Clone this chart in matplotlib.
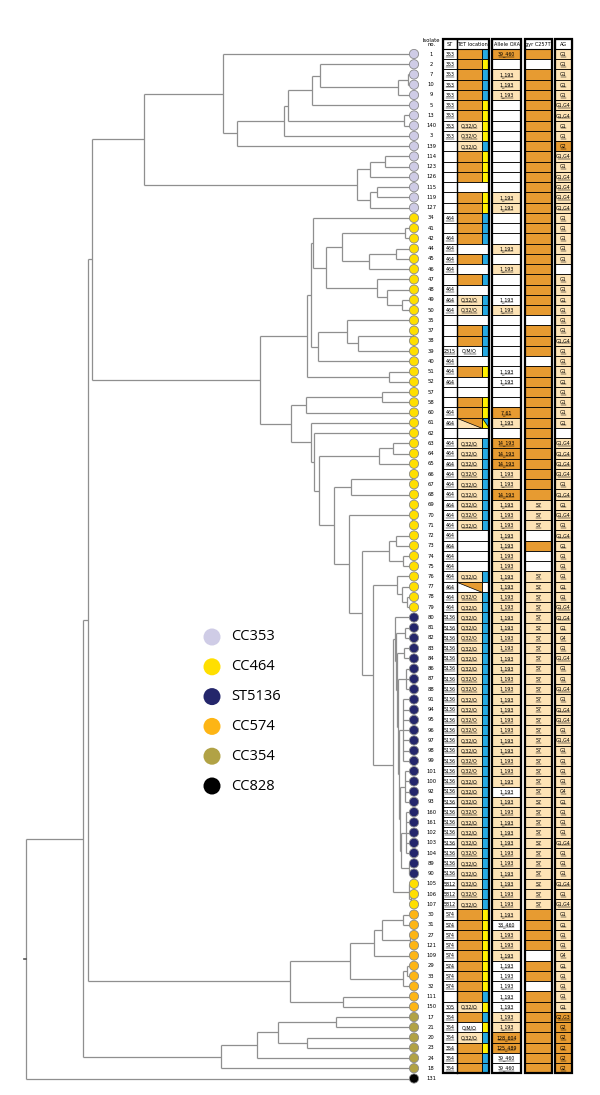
import matplotlib.pyplot as plt
from matplotlib.patches import Rectangle, Polygon

# isolates, top to bottom (last one, 131, has no table row)
isolates = ('1 2 7 10 9 5 13 140 3 139 114 123 126 115 119 127 '
            '34 41 42 44 45 46 47 48 49 50 35 37 38 39 40 51 52 57 58 60 61 62 '
            '63 64 65 66 67 68 69 70 71 72 73 74 75 76 77 78 79 '
            '80 81 82 83 84 86 87 88 91 94 95 96 97 98 99 101 100 92 93 160 161 102 103 104 89 90 '
            '105 106 107 30 31 27 121 109 29 33 32 111 150 17 21 20 23 24 18 131').split()

group_runs = [('CC353', 16), ('CC464', 39), ('ST5136', 26), ('CC464', 3),
              ('CC574', 10), ('CC354', 6), ('CC828', 1)]
group_colors = {'CC353': '#cfcce6', 'CC464': '#ffdf00', 'ST5136': '#24266b',
                'CC574': '#fdb515', 'CC354': '#b1a245', 'CC828': '#000000'}
legend_order = ['CC353', 'CC464', 'ST5136', 'CC574', 'CC354', 'CC828']

# tree: [distance from root, child, child, ...]; leaves are isolate names
tree = [0,
        [57,
         [62,
          [66,
           [118,
            [197, '1',
             [211,
              [258,
               [262,
                [286,
                 [294, '2', [372, [382, '7', '10'], '9']],
                 '5'],
                [378, '13', '140']],
               '3'],
              '139']],
            [331,
             [344, [359, '114', '123'], '126'],
             [344, [351, '115', '119'], '127']]],
           [234,
            [281,
             [285,
              [287, '34',
               [300,
                [316, [379, '41', '42'], [343, [370, '44', '45'], '46']],
                [351, '47', [361, '48', [376, '49', '50']]]]],
              [292, [321, '35', [332, [387, '37', '38'], '39']], '40']],
             [363, '51', '52']],
            [265,
             [280, [356, '57', '58'], '60'],
             [285, '61',
              [288, '62',
               [293,
                [353, [367, '63', '64'], '65'],
                [308,
                 [325, [386, '66', '67'], '68'],
                 [323, [386, '69', '70', '71'],
                  [336,
                   [363, [370, '72', '73'], [377, '74', '75']],
                   [347,
                    [371, '76', [376, '77', [381, '78', '79']]],
                    [367,
                     [369, '80',
                      [370, [379, '81', '82'],
                       [371, [378, '83', '84'],
                        [372, [380, '86', '87', '88'],
                         [373, [377, '91', '94', '95', '96', '97', '98', '99'],
                          [374, [379, '101', '100', '92', '93'],
                           [375, [380, '160', '161', '102', '103', '104'],
                            [383, '89', '90']]]]]]]],
                     [383, '105', [385, '106', '107']]]]]]]]]]]]],
          [264,
           [324,
            [348, [356, [377, '30', '31'], [384, '27', '121']], '109'],
            [377, [381, '29', '33'], '32']],
           [317, '111', '150']]],
         [195,
          [231,
           [252, [310, '17', '21'], [281, '20', '23']],
           '24'],
          '18']],
        '131']

# table columns (one entry per isolate row, '-' = empty)
st = ('353 353 353 353 353 353 353 353 353 - - - - - - - '
      '464 - 464 464 464 464 - 464 464 464 - - - 2315 464 464 464 - - 464 464 - '
      '464 464 464 464 464 464 464 464 464 464 464 464 464 464 464 464 464 '
      + '5136 ' * 26 + '5812 5812 5812 '
      '574 574 574 574 574 574 574 574 - 305 354 354 354 354 354 354').split()
tet_cell = ('o o o o o o o p p p o o o w o o '
            'o o o w o w o w p p w o o m w o w w o o d w '
            'p p p p p p p p p w w w w p x p p '
            + 'p ' * 29 +
            'o o o o o o o o o p o m p o o o').split()
tet_box = ('b y b b b y y y y b y y y - y y '
           'b b b - b - b - b b - b b b - y - - y y d - '
           'b b b b b b b b b - - - - b w b b '
           + 'b ' * 29 +
           'y y y y y y y y b y b y b y b b').split()
oxa_cell = ('o w p p p w w w w w w w w w p p '
            'w w w p w p w w w p w w w w w w w w w o p w '
            'o o o p p o p p p p p p p p p p p '
            + 'p ' * 17 + 'w ' + 'p ' * 11 +
            'p w p p p w w w w w p p o o w w').split()
oxa_text = ('39_460 - 1_193 1_193 1_193 - - - - - - - - - 1_193 1_193 '
            '- - - 1_193 - 1_193 - - 1_193 1_193 - - - - - 1_193 1_193 - - 7_61 1_193 - '
            '14_193 14_193 14_193 1_193 1_193 14_193 '
            + '1_193 ' * 40 +
            '1_193 38_460 ' + '1_193 ' * 10 + '128_604 125_489 39_460 39_460').split()
gyr_cell = ('o w ' + 'o ' * 24 + 'w o o o w ' + 'o ' * 13 + 'p p p w o w w '
            + 'p ' * 33 + 'o o o o w o o w ' + 'o ' * 8).split()
ag_cell = ('p p p p p p p p p o p p p p p p '
           'p p p p p w p p p p p p p p p p p p p p p w '
           + 'p ' * 56 + 'o o o o o o').split()
ag_text = ('G1 G1 G1 G1 G1 G1,G4 G1,G4 G1 G1 G2 G1,G4 G1 G1,G4 G1,G4 G1,G4 G1,G4 '
           'G1 G1 G1 G1 G1 - G1 G1 G1 G1 G1 G1 G1,G4 G1 G1 G1 G1 G1 G1 G1 G1 - '
           'G1,G4 G1,G4 G1,G4 G1,G4 G1 G1,G4 G1 G1,G4 G1 G1,G4 G1 G1 G1 G1 G1 G1 G1,G4 '
           'G1,G4 G1 G4 G1 G1,G4 G1 G1 G1,G4 G1 G1,G4 G1,G4 G1 G1,G4 G1 G1 G1 G1 G4 '
           'G1 G1 G1 G1 G1,G4 G1 G1 G1 G1,G4 G1 G1,G4 '
           'G1 G1 G1 G1 G4 G1 G1 G1 G1 G1 G2,G3 G2 G2 G2 G2 G2').split()

ORANGE = '#e79b31'
PEACH = '#fde3b5'
BLUE = '#27aae1'
YELLOW = '#fff100'
fills = {'o': ORANGE, 'p': PEACH, 'w': 'white', 'm': 'white', '-': 'white'}
tet_labels = {'p': 'O/32/O', 'm': 'O/M/O'}

Y0, DY = 54.0, 10.245
X_ROOT, X_TIP = 26.0, 414.0


def row_y(i):
    return Y0 + DY * i


fig = plt.figure(figsize=(6, 10.95), dpi=100)
ax = fig.add_axes([0, 0, 1, 1])
ax.set_xlim(0, 600)
ax.set_ylim(1095, 0)
ax.axis('off')

# ---- tree ----
row_of = {name: i for i, name in enumerate(isolates)}
line_kw = dict(color='#8f8f8f', lw=0.9, solid_capstyle='butt', zorder=1)


def draw_node(node):
    if isinstance(node, str):
        return X_TIP, row_y(row_of[node])
    x = X_ROOT + node[0]
    kids = [draw_node(c) for c in node[1:]]
    ys = [k[1] for k in kids]
    ax.plot([x, x], [ys[0], ys[-1]], **line_kw)
    for kx, ky in kids:
        ax.plot([x, kx], [ky, ky], **line_kw)
    return x, (ys[0] + ys[-1]) / 2


rx, ry = draw_node(tree)
ax.plot([rx - 2, rx], [ry, ry], color='#555555', lw=1.2)

leaf_groups = []
for g, n in group_runs:
    leaf_groups += [g] * n
ax.scatter([X_TIP] * len(isolates), [row_y(i) for i in range(len(isolates))],
           s=44, c=[group_colors[g] for g in leaf_groups],
           edgecolors='#8a8a8a', linewidths=0.6, zorder=3)
for i, name in enumerate(isolates):
    ax.text(431, row_y(i), name, ha='center', va='center', fontsize=3.8)
ax.text(431, 42.5, 'Isolate\nno.', ha='center', va='center', fontsize=3.8,
        linespacing=1.0)

# ---- legend ----
for k, g in enumerate(legend_order):
    y = 637 + 29.8 * k
    ax.scatter([212], [y], s=150, c=group_colors[g], edgecolors='none', zorder=3)
    ax.text(231, y, g, ha='left', va='center', fontsize=10.5, family='Open Sans')

# ---- table ----
FS = 3.4
x_st, x_tet, x_box, x_box_end = 443, 457, 482, 488.5
x_oxa, x_oxa_end = 492, 521
x_gyr, x_gyr_end = 524.5, 552
x_ag, x_ag_end = 555, 572
top_hdr = 39.0
bottom = row_y(len(st) - 1) + DY / 2


def cell(x0, x1, i, color, text=''):
    y = row_y(i) - DY / 2
    ax.add_patch(Rectangle((x0, y), x1 - x0, DY, facecolor=color,
                           edgecolor='black', lw=0.6, zorder=2))
    if text and text != '-':
        xc = (x0 + x1) / 2
        ax.text(xc, row_y(i) + 0.3, text, ha='center', va='center',
                fontsize=FS, zorder=4)
        half = len(text) * 1.2
        ax.plot([xc - half, xc + half], [row_y(i) + 2.6] * 2, color='black',
                lw=0.35, zorder=4)


for i in range(len(st)):
    cell(x_st, x_tet, i, 'white', st[i])
    t, b = tet_cell[i], tet_box[i]
    if t == 'd':
        yt, yb = row_y(i) - DY / 2, row_y(i) + DY / 2
        cell(x_tet, x_box, i, PEACH)
        ax.add_patch(Polygon([(x_tet, yt), (x_box, yt), (x_box, yb)], closed=True,
                             facecolor=ORANGE, edgecolor='black', lw=0.5, zorder=2))
        cell(x_box, x_box_end, i, YELLOW)
        ax.add_patch(Polygon([(x_box, yt), (x_box_end, yt), (x_box_end, yb)],
                             closed=True, facecolor=BLUE, edgecolor='black',
                             lw=0.5, zorder=2))
    elif t == 'x':
        yt, yb = row_y(i) - DY / 2, row_y(i) + DY / 2
        cell(x_tet, x_box, i, 'white')
        ax.add_patch(Polygon([(x_tet, yt), (x_box, yt), (x_box, yb)], closed=True,
                             facecolor=ORANGE, edgecolor='black', lw=0.5, zorder=2))
        cell(x_box, x_box_end, i, 'white')
    elif b == '-':
        cell(x_tet, x_box_end, i, fills[t], tet_labels.get(t, ''))
    else:
        cell(x_tet, x_box, i, fills[t], tet_labels.get(t, ''))
        cell(x_box, x_box_end, i, {'b': BLUE, 'y': YELLOW, 'w': 'white'}[b])
    cell(x_oxa, x_oxa_end, i, fills[oxa_cell[i]], oxa_text[i])
    cell(x_gyr, x_gyr_end, i, fills[gyr_cell[i]], '57' if gyr_cell[i] == 'p' else '')
    cell(x_ag, x_ag_end, i, fills[ag_cell[i]], ag_text[i])

headers = [(x_st, x_tet, 'ST'), (x_tet, x_box_end, 'TET location'),
           (x_oxa, x_oxa_end, 'Allele OXA'), (x_gyr, x_gyr_end, 'gyr C257T'),
           (x_ag, x_ag_end, 'AG')]
for x0, x1, label in headers:
    ax.add_patch(Rectangle((x0, top_hdr), x1 - x0, row_y(0) - DY / 2 - top_hdr,
                           facecolor='white', edgecolor='black', lw=0.8, zorder=2))
    ax.text((x0 + x1) / 2, (top_hdr + row_y(0) - DY / 2) / 2 + 0.3, label,
            ha='center', va='center', fontsize=3.6, zorder=4)

for x0, x1 in [(x_st, x_box_end), (x_oxa, x_oxa_end), (x_gyr, x_gyr_end), (x_ag, x_ag_end)]:
    ax.add_patch(Rectangle((x0, top_hdr), x1 - x0, bottom - top_hdr, fill=False,
                           edgecolor='black', lw=1.6, zorder=5))
ax.plot([x_tet, x_tet], [top_hdr, bottom], color='black', lw=1.0, zorder=5)

fig.savefig('out.png', dpi=100)
